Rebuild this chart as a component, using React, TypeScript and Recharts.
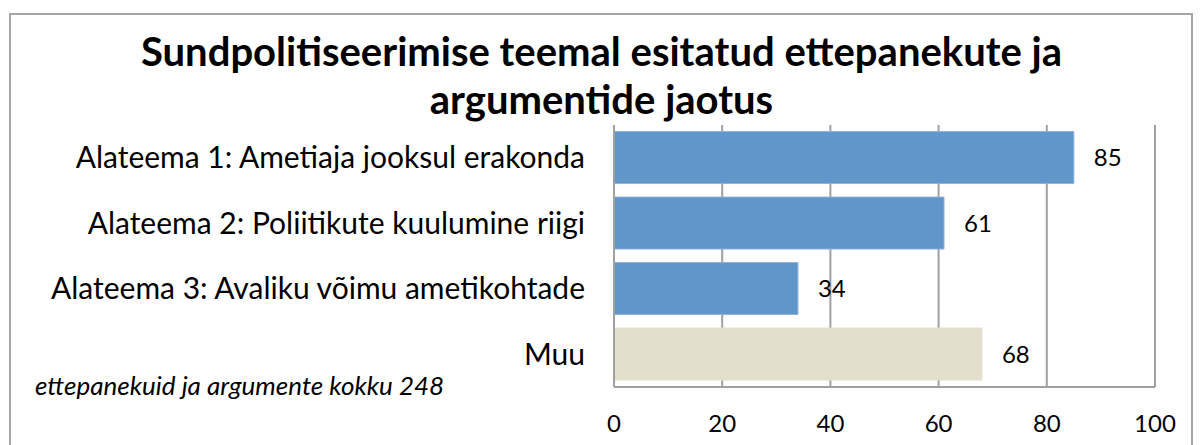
import { BarChart, Bar, XAxis, YAxis, CartesianGrid, LabelList, Cell } from "recharts"

const categories = [
  "Alateema 1: Ametiaja jooksul erakonda",
  "Alateema 2: Poliitikute kuulumine riigi",
  "Alateema 3: Avaliku võimu ametikohtade",
  "Muu",
]
const counts = [85, 61, 34, 68]
const barColors = ["#6096CA", "#6096CA", "#6096CA", "#E2DFCC"]
const xTicks = [0, 20, 40, 60, 80, 100]
const titleLines = [
  "Sundpolitiseerimise teemal esitatud ettepanekute ja",
  "argumentide jaotus",
]
const note = "ettepanekuid ja argumente kokku 248"

const data = categories.map((name, i) => ({ name, value: counts[i] }))

const font = "Lato, 'Open Sans', sans-serif"

export default function App() {
  return (
    <div style={{ position: "relative", width: 1203, height: 445, background: "#fff", fontFamily: font, overflow: "hidden" }}>
      <style>{"body{margin:0}"}</style>
      <div
        style={{
          position: "absolute",
          left: 9,
          top: 13,
          width: 1184,
          height: 460,
          border: "2px solid #a6a6a6",
          boxSizing: "border-box",
        }}
      />
      <div
        style={{
          position: "absolute",
          left: 0,
          top: 27,
          width: 1203,
          textAlign: "center",
          fontWeight: 700,
          fontSize: 40,
          lineHeight: "48px",
          color: "#000",
        }}
      >
        {titleLines.map((l) => (
          <div key={l}>{l}</div>
        ))}
      </div>
      <div
        style={{
          position: "absolute",
          left: 35,
          top: 369,
          fontStyle: "italic",
          fontSize: 26,
          color: "#000",
        }}
      >
        {note}
      </div>
      <div style={{ position: "absolute", left: 0, top: 0 }}>
        <BarChart
          width={1203}
          height={445}
          data={data}
          layout="vertical"
          margin={{ top: 125, right: 48, bottom: 0, left: 0 }}
          barCategoryGap="10%"
        >
          <CartesianGrid horizontal={false} vertical stroke="#a0a0a0" strokeWidth={2} />
          <XAxis
            type="number"
            domain={[0, 100]}
            ticks={xTicks}
            height={58}
            tickLine={false}
            tickSize={0}
            tickMargin={28}
            axisLine={{ stroke: "#a0a0a0", strokeWidth: 2 }}
            tick={{ fill: "#000", fontSize: 24, fontFamily: font }}
          />
          <YAxis
            type="category"
            dataKey="name"
            width={614}
            tickLine={false}
            tickSize={0}
            tickMargin={29}
            axisLine={{ stroke: "#a0a0a0", strokeWidth: 2 }}
            tick={{ fill: "#000", fontSize: 30, fontFamily: font }}
            interval={0}
          />
          <Bar dataKey="value" isAnimationActive={false}>
            {data.map((d, i) => (
              <Cell key={d.name} fill={barColors[i]} stroke={i < 3 ? "#8FB2DA" : "#E2DFCC"} />
            ))}
            <LabelList
              dataKey="value"
              position="right"
              offset={20}
              fill="#000"
              fontSize={24}
              fontFamily={font}
            />
          </Bar>
        </BarChart>
      </div>
    </div>
  )
}
